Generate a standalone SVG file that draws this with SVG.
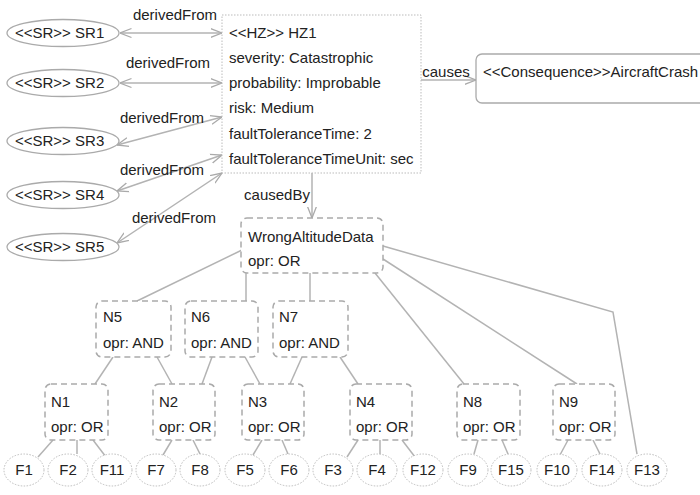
<svg xmlns="http://www.w3.org/2000/svg" width="700" height="495" viewBox="0 0 700 495">
<style>
text{font-family:"Liberation Sans",Arial,sans-serif;font-size:15px;fill:#222}
.sr{fill:#fff;stroke:#aaa;stroke-width:1.3}
.f{fill:#fff;stroke:#bbb;stroke-width:1;stroke-dasharray:1.5 1.5}
.hz{fill:#fff;stroke:#bbb;stroke-width:1;stroke-dasharray:1.5 1.5}
.dn{fill:#fff;stroke:#aaa;stroke-width:1.5;stroke-dasharray:6 4}
.cq{fill:#fff;stroke:#aaa;stroke-width:1.3}
.e{fill:none;stroke:#b3b3b3;stroke-width:1.5}
.a{fill:none;stroke:#b3b3b3;stroke-width:1.5;marker-end:url(#oa)}
.d{fill:none;stroke:#b3b3b3;stroke-width:1.5;marker-end:url(#oa);marker-start:url(#oa)}
.c{text-anchor:middle}
</style>
<defs>
<marker id="oa" viewBox="0 0 12 12" refX="11.5" refY="6" markerWidth="12" markerHeight="12" markerUnits="userSpaceOnUse" orient="auto-start-reverse">
<path d="M0,1.5 L11.5,6 L0,10.5" fill="none" stroke="#aaa" stroke-width="1.3"/>
</marker>
</defs>

<g id="connectors">
<line class="d" x1="120" y1="33" x2="222" y2="33"/>
<line class="d" x1="120" y1="83" x2="222" y2="83"/>
<line class="d" x1="117" y1="145" x2="222" y2="117"/>
<line class="d" x1="117" y1="191" x2="222" y2="155"/>
<line class="d" x1="117" y1="243" x2="222" y2="173"/>
<line class="a" x1="421" y1="80" x2="476" y2="80"/>
<line class="a" x1="312" y1="173" x2="312" y2="218"/>
<line class="e" x1="242" y1="250" x2="137" y2="301"/>
<line class="e" x1="246" y1="273" x2="246" y2="301"/>
<line class="e" x1="310" y1="273" x2="310" y2="301"/>
<line class="e" x1="375" y1="273" x2="464" y2="384"/>
<line class="e" x1="383" y1="259" x2="577" y2="384"/>
<polyline class="e" points="383,246 613,312 637,454"/>
<line class="e" x1="113" y1="357" x2="95" y2="384"/>
<line class="e" x1="157" y1="357" x2="172" y2="384"/>
<line class="e" x1="212" y1="357" x2="202" y2="384"/>
<line class="e" x1="245" y1="357" x2="260" y2="384"/>
<line class="e" x1="302" y1="357" x2="290" y2="384"/>
<line class="e" x1="340" y1="357" x2="358" y2="384"/>
<line class="e" x1="53" y1="440" x2="38" y2="457"/>
<line class="e" x1="77" y1="440" x2="77" y2="454"/>
<line class="e" x1="93" y1="440" x2="106" y2="457"/>
<line class="e" x1="172" y1="440" x2="163" y2="455"/>
<line class="e" x1="193" y1="440" x2="200" y2="454"/>
<line class="e" x1="262" y1="440" x2="253" y2="455"/>
<line class="e" x1="282" y1="440" x2="288" y2="454"/>
<line class="e" x1="358" y1="440" x2="347" y2="457"/>
<line class="e" x1="380" y1="440" x2="380" y2="454"/>
<line class="e" x1="402" y1="440" x2="415" y2="457"/>
<line class="e" x1="478" y1="440" x2="474" y2="454"/>
<line class="e" x1="502" y1="440" x2="508" y2="454"/>
<line class="e" x1="568" y1="440" x2="560" y2="455"/>
<line class="e" x1="593" y1="440" x2="600" y2="454"/>
<text class="c" x="175" y="20">derivedFrom</text>
<text class="c" x="168" y="68">derivedFrom</text>
<text class="c" x="162" y="123">derivedFrom</text>
<text class="c" x="162" y="175">derivedFrom</text>
<text class="c" x="174" y="223">derivedFrom</text>
<text class="c" x="446" y="77">causes</text>
<text class="c" x="277" y="200">causedBy</text>
</g>

<g id="SR1"><ellipse class="sr" cx="63" cy="33" rx="56" ry="13.5"/><text x="15" y="38">&lt;&lt;SR&gt;&gt; SR1</text></g>
<g id="SR2"><ellipse class="sr" cx="63" cy="83" rx="56" ry="13.5"/><text x="15" y="88">&lt;&lt;SR&gt;&gt; SR2</text></g>
<g id="SR3"><ellipse class="sr" cx="63" cy="141" rx="56" ry="13.5"/><text x="15" y="146">&lt;&lt;SR&gt;&gt; SR3</text></g>
<g id="SR4"><ellipse class="sr" cx="63" cy="195" rx="56" ry="13.5"/><text x="15" y="200">&lt;&lt;SR&gt;&gt; SR4</text></g>
<g id="SR5"><ellipse class="sr" cx="63" cy="247" rx="56" ry="13.5"/><text x="15" y="252">&lt;&lt;SR&gt;&gt; SR5</text></g>

<g id="HZ1">
<rect class="hz" x="222" y="15" width="199" height="158"/>
<text x="229" y="38">&lt;&lt;HZ&gt;&gt; HZ1</text>
<text x="229" y="63">severity: Catastrophic</text>
<text x="229" y="88">probability: Improbable</text>
<text x="229" y="113">risk: Medium</text>
<text x="229" y="139">faultToleranceTime: 2</text>
<text x="229" y="164">faultToleranceTimeUnit: sec</text>
</g>

<g id="AircraftCrash">
<rect class="cq" x="476" y="54" width="260" height="49" rx="6"/>
<text x="483" y="77">&lt;&lt;Consequence&gt;&gt;AircraftCrash</text>
</g>

<g id="WrongAltitudeData">
<rect class="dn" x="241" y="218" width="142" height="55" rx="6"/>
<text x="248" y="242">WrongAltitudeData</text>
<text x="248" y="266">opr: OR</text>
</g>

<g id="N5"><rect class="dn" x="96" y="301" width="75" height="56" rx="6"/><text x="103" y="322">N5</text><text x="103" y="348">opr: AND</text></g>
<g id="N6"><rect class="dn" x="185" y="301" width="73" height="56" rx="6"/><text x="191" y="322">N6</text><text x="191" y="348">opr: AND</text></g>
<g id="N7"><rect class="dn" x="273" y="301" width="75" height="56" rx="6"/><text x="279" y="322">N7</text><text x="279" y="348">opr: AND</text></g>

<g id="N1"><rect class="dn" x="45" y="384" width="63" height="56" rx="6"/><text x="51" y="407">N1</text><text x="51" y="432">opr: OR</text></g>
<g id="N2"><rect class="dn" x="153" y="384" width="62" height="56" rx="6"/><text x="159" y="407">N2</text><text x="159" y="432">opr: OR</text></g>
<g id="N3"><rect class="dn" x="242" y="384" width="62" height="56" rx="6"/><text x="248" y="407">N3</text><text x="248" y="432">opr: OR</text></g>
<g id="N4"><rect class="dn" x="350" y="384" width="62" height="56" rx="6"/><text x="356" y="407">N4</text><text x="356" y="432">opr: OR</text></g>
<g id="N8"><rect class="dn" x="457" y="384" width="63" height="56" rx="6"/><text x="463" y="407">N8</text><text x="463" y="432">opr: OR</text></g>
<g id="N9"><rect class="dn" x="553" y="384" width="62" height="56" rx="6"/><text x="559" y="407">N9</text><text x="559" y="432">opr: OR</text></g>

<g id="F1"><ellipse class="f" cx="24" cy="470" rx="20" ry="16"/><text class="c" x="24" y="475">F1</text></g>
<g id="F2"><ellipse class="f" cx="68" cy="470" rx="20" ry="16"/><text class="c" x="68" y="475">F2</text></g>
<g id="F11"><ellipse class="f" cx="112" cy="470" rx="20" ry="16"/><text class="c" x="112" y="475">F11</text></g>
<g id="F7"><ellipse class="f" cx="156" cy="470" rx="20" ry="16"/><text class="c" x="156" y="475">F7</text></g>
<g id="F8"><ellipse class="f" cx="200" cy="470" rx="20" ry="16"/><text class="c" x="200" y="475">F8</text></g>
<g id="F5"><ellipse class="f" cx="245" cy="470" rx="20" ry="16"/><text class="c" x="245" y="475">F5</text></g>
<g id="F6"><ellipse class="f" cx="289" cy="470" rx="20" ry="16"/><text class="c" x="289" y="475">F6</text></g>
<g id="F3"><ellipse class="f" cx="333" cy="470" rx="20" ry="16"/><text class="c" x="333" y="475">F3</text></g>
<g id="F4"><ellipse class="f" cx="377" cy="470" rx="20" ry="16"/><text class="c" x="377" y="475">F4</text></g>
<g id="F12"><ellipse class="f" cx="423" cy="470" rx="20" ry="16"/><text class="c" x="423" y="475">F12</text></g>
<g id="F9"><ellipse class="f" cx="468" cy="470" rx="20" ry="16"/><text class="c" x="468" y="475">F9</text></g>
<g id="F15"><ellipse class="f" cx="511" cy="470" rx="20" ry="16"/><text class="c" x="511" y="475">F15</text></g>
<g id="F10"><ellipse class="f" cx="557" cy="470" rx="20" ry="16"/><text class="c" x="557" y="475">F10</text></g>
<g id="F14"><ellipse class="f" cx="602" cy="470" rx="20" ry="16"/><text class="c" x="602" y="475">F14</text></g>
<g id="F13"><ellipse class="f" cx="647" cy="470" rx="20" ry="16"/><text class="c" x="647" y="475">F13</text></g>
</svg>
